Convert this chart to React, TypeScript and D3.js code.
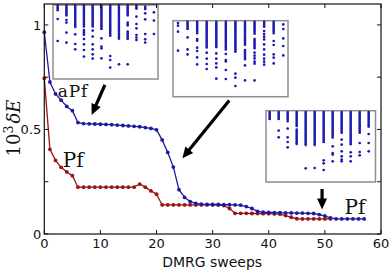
import React from "react"
import * as d3 from "d3"

const width = 392
const height = 272

const margin = {
  top: 4,
  right: 11,
  bottom: 38,
  left: 44
}

// axes
const sweepTicks = [0, 10, 20, 30, 40, 50, 60]
const energyTicks = [0, 0.25, 0.5, 0.75, 1]
const energyLabels = ["0", "0.5", "1"]
const energyLabelValues = [0, 0.5, 1]

// 10^3 dE per sweep (blue = aPf, red = Pf)
const aPfEnergy = [
  0.965, 0.727, 0.67, 0.64, 0.61, 0.59, 0.533, 0.528, 0.527, 0.526,
  0.525, 0.524, 0.523, 0.521, 0.519, 0.517, 0.515, 0.513, 0.509, 0.505,
  0.498, 0.45, 0.39, 0.32, 0.212, 0.175, 0.155, 0.146, 0.143, 0.142,
  0.141, 0.141, 0.14, 0.14, 0.139, 0.138, 0.131, 0.122, 0.108, 0.104,
  0.103, 0.102, 0.102, 0.101, 0.101, 0.1, 0.1, 0.099, 0.098, 0.093,
  0.086, 0.077, 0.072, 0.072, 0.072, 0.072, 0.072, 0.072
]
const pfEnergy = [
  0.745, 0.405, 0.352, 0.319, 0.297, 0.279, 0.224, 0.224, 0.224, 0.224,
  0.224, 0.224, 0.224, 0.224, 0.224, 0.224, 0.224, 0.239, 0.224, 0.206,
  0.19, 0.139, 0.139, 0.139, 0.139, 0.139, 0.139, 0.139, 0.139, 0.139,
  0.139, 0.139, 0.136, 0.122, 0.099, 0.099, 0.099, 0.098, 0.098, 0.097,
  0.097, 0.096, 0.095, 0.088, 0.08, 0.073, 0.072, 0.072, 0.072, 0.072,
  0.072, 0.072
]

// insets: dense runs [column, from, to] and single dots [column, level]
const inset1Runs = [
  [0, 1.3, 6.7], [1, 1.3, 12.3], [2, 1.3, 24], [3, 1.3, 22.3], [3, 25.7, 30.7],
  [4, 1.3, 22.3], [5, 1.3, 25.7], [6, 1.3, 32.3], [7, 1.3, 35.7], [8, 1.3, 12.3],
  [8, 18.3, 22.3], [8, 27.3, 35.7], [9, 1.3, 5.7], [10, 2.3, 5.7]
]
const inset1Dots = [
  [0, 14.7], [0, 36.7], [1, 15.7], [1, 18.3], [1, 28.3], [1, 38.3],
  [2, 30], [2, 39.7], [2, 45], [3, 34.7], [3, 40], [3, 45.7], [3, 52.3],
  [4, 26.3], [4, 32.3], [4, 40], [4, 45], [4, 50], [4, 54.3],
  [5, 34], [5, 42.3], [5, 44], [5, 54], [6, 51.7], [6, 55.7], [6, 63.3],
  [7, 60], [8, 60], [9, 12.3], [9, 19.7], [9, 24], [9, 30.7], [9, 33.3], [9, 35.7],
  [10, 9], [10, 15], [10, 29.7], [10, 35], [10, 38.3], [11, 8], [11, 16.3], [11, 29.7]
]
const inset2Runs = [
  [1, 1, 9.3], [2, 1, 12.7], [3, 1, 28], [4, 1, 26.7], [5, 1, 29.3], [6, 1, 31],
  [7, 1, 24.3], [7, 29.3, 39.3], [8, 1, 14.3], [8, 18.3, 27.7], [9, 1, 7], [10, 1, 12.7]
]
const inset2Dots = [
  [0, 2.3], [0, 5], [0, 11], [0, 30], [1, 16.7], [1, 28.7], [1, 33.7],
  [2, 18.3], [2, 20], [2, 27], [2, 30.3], [2, 36.7], [2, 43.7],
  [3, 32], [3, 38], [3, 43.3], [3, 48.3], [4, 32.7], [4, 38], [4, 42.7], [4, 46.7], [4, 58],
  [5, 33.3], [5, 39.3], [5, 40.7], [5, 49.3], [5, 58.3], [6, 53], [6, 57], [6, 65.3],
  [7, 44.7], [7, 59.7], [8, 32], [8, 35], [8, 37.7], [8, 41], [8, 43], [8, 59.7],
  [9, 10.3], [9, 13.3], [9, 16], [9, 18.7], [9, 23.7], [9, 28.7], [9, 34], [9, 38], [9, 41], [9, 44],
  [10, 20.3], [10, 24.3], [10, 33.7], [10, 37], [10, 42.7],
  [11, 3.7], [11, 8.3], [11, 17.7], [11, 25.3], [11, 34.7]
]
const inset3Runs = [
  [0, 0.7, 8.3], [1, 0.7, 8.3], [2, 0.7, 10], [3, 0.7, 15], [3, 18.3, 34],
  [4, 0.7, 35], [5, 0.7, 35], [6, 0.7, 31.7], [7, 0.7, 26.7], [8, 0.7, 21.7],
  [9, 0.7, 33.3], [10, 0.7, 21.7], [11, 0.7, 16.7]
]
const inset3Dots = [
  [1, 19.3], [1, 26], [2, 17.3], [2, 26], [2, 30.7], [2, 36], [4, 57], [5, 56.7],
  [6, 49], [6, 52], [6, 58.7], [7, 35], [7, 41.7], [7, 43.3], [7, 50],
  [8, 28.3], [8, 33.3], [8, 40], [8, 45], [8, 48.3], [8, 50],
  [9, 41], [9, 45], [9, 50], [10, 31.7], [10, 40.7], [10, 44], [11, 22.7], [11, 31.7], [11, 40]
]

const blue = "#1c1ca0"
const red = "#9a1212"
const dotBlue = "#1a1ab0"

function Inset({ box, origin, colX, colStep, runs, dots }) {
  const x = d3.scaleLinear().domain([0, 1]).range([colX, colX + colStep])
  const y = d3.scaleLinear().domain([0, 1]).range([origin, origin + 1])
  return (
    <g>
      <rect x={box.x} y={box.y} width={box.w} height={box.h} fill="white" stroke="#8e8e8e" strokeWidth={1.5} />
      {runs.map((r, i) => (
        <line key={"r" + i} x1={x(r[0])} x2={x(r[0])} y1={y(r[1])} y2={y(r[2])}
          stroke={dotBlue} strokeWidth={2.6} strokeLinecap="round" strokeDasharray="0.1 2.2" />
      ))}
      {runs.map((r, i) => (
        <line key={"s" + i} x1={x(r[0])} x2={x(r[0])} y1={y(r[1])} y2={y(r[2])}
          stroke={dotBlue} strokeWidth={2.2} opacity={0.75} />
      ))}
      {dots.map((d, i) => (
        <circle key={"d" + i} cx={x(d[0])} cy={y(d[1])} r={1.35} fill={dotBlue} />
      ))}
    </g>
  )
}

function Arrow({ x1, y1, x2, y2 }) {
  const dx = x2 - x1
  const dy = y2 - y1
  const len = Math.sqrt(dx * dx + dy * dy)
  const ux = dx / len
  const uy = dy / len
  const L = 11
  const W = 10
  const bx = x2 - ux * L
  const by = y2 - uy * L
  const pts = [
    [x2, y2],
    [bx - uy * W / 2, by + ux * W / 2],
    [bx + uy * W / 2, by - ux * W / 2]
  ]
  return (
    <g>
      <line x1={x1} y1={y1} x2={x2 - ux * L * 0.7} y2={y2 - uy * L * 0.7} stroke="black" strokeWidth={3.2} />
      <polygon points={pts.map(p => p.join(",")).join(" ")} fill="black" />
    </g>
  )
}

function App() {
  const xScale = d3.scaleLinear()
    .domain([0, 60])
    .range([margin.left + 0.3, width - margin.right])

  const yScale = d3.scaleLinear()
    .domain([0, 1.1])
    .range([height - margin.bottom, margin.top])

  const line = d3.line<number>()
    .x((d, i) => xScale(i))
    .y(d => yScale(d))

  const x0 = xScale(0)
  const x1 = xScale(60)
  const y0 = yScale(0)
  const y1 = yScale(1.1)

  return (
    <svg width={width} height={height} style={{ position: "absolute", left: 0, top: 0 }}>
      <rect width={width} height={height} fill="white" />

      <path d={line(pfEnergy)} fill="none" stroke={red} strokeWidth={1.3} />
      {pfEnergy.map((d, i) => (
        <circle key={"p" + i} cx={xScale(i)} cy={yScale(d)} r={1.9} fill={red} />
      ))}
      <path d={line(aPfEnergy)} fill="none" stroke={blue} strokeWidth={1.3} />
      {aPfEnergy.map((d, i) => (
        <circle key={"a" + i} cx={xScale(i)} cy={yScale(d)} r={1.9} fill={blue} />
      ))}

      <Inset box={{ x: 53, y: 5, w: 105, h: 74 }} origin={4.3} colX={57.7} colStep={8.75} runs={inset1Runs} dots={inset1Dots} />
      <Inset box={{ x: 173, y: 20.7, w: 115, h: 76 }} origin={20.7} colX={178} colStep={9.57} runs={inset2Runs} dots={inset2Dots} />
      <Inset box={{ x: 266, y: 110.7, w: 109.5, h: 71.3 }} origin={111.3} colX={269.7} colStep={9} runs={inset3Runs} dots={inset3Dots} />

      {/* frame */}
      <rect x={x0} y={y1} width={x1 - x0} height={y0 - y1} fill="none" stroke="#111" strokeWidth={1.2} />

      {sweepTicks.map(t => (
        <g key={"xt" + t} transform={`translate(${xScale(t)},0)`}>
          <line y1={y0} y2={y0 - 4} stroke="#111" />
          <line y1={y1} y2={y1 + 4} stroke="#111" />
          <text y={y0 + 14} textAnchor="middle" fontFamily="DejaVu Sans" fontSize={13} fill="#111">{t}</text>
        </g>
      ))}
      {energyTicks.map(t => (
        <g key={"yt" + t} transform={`translate(0,${yScale(t)})`}>
          <line x1={x0} x2={x0 + 4} stroke="#111" />
          <line x1={x1} x2={x1 - 4} stroke="#111" />
        </g>
      ))}
      {energyLabelValues.map((t, i) => (
        <text key={"yl" + t} x={x0 - 3} y={yScale(t)} dy="0.36em" textAnchor="end"
          fontFamily="DejaVu Sans" fontSize={13} fill="#111">{energyLabels[i]}</text>
      ))}

      <text x={(x0 + x1) / 2 - 0.5} y={266.5} textAnchor="middle" fontFamily="DejaVu Sans" fontSize={14} fill="#111">DMRG sweeps</text>

      <g transform={`translate(20,${(y0 + y1) / 2 + 9})rotate(-90)`}>
        <text textAnchor="middle" fontFamily="DejaVu Serif" fontSize={18} fill="#111">
          <tspan>10</tspan>
          <tspan fontSize={12.5} dy={-7}>3</tspan>
          <tspan dy={7} dx={2} fontStyle="italic">δE</tspan>
        </text>
      </g>

      <text x={xScale(2.4)} y={yScale(0.655)} fontFamily="DejaVu Serif" fontSize={17} letterSpacing={0.8} fill="#111">aPf</text>
      <text x={xScale(3.3)} y={yScale(0.32)} fontFamily="DejaVu Serif" fontSize={20} fill="#111">Pf</text>
      <text x={xScale(53.5)} y={yScale(0.096)} fontFamily="DejaVu Serif" fontSize={20} fill="#111">Pf</text>

      <Arrow x1={xScale(10.8)} y1={yScale(0.713)} x2={xScale(8.44)} y2={yScale(0.569)} />
      <Arrow x1={xScale(32.96)} y1={yScale(0.638)} x2={xScale(24.6)} y2={yScale(0.362)} />
      <Arrow x1={xScale(49.5)} y1={yScale(0.215)} x2={xScale(49.5)} y2={yScale(0.117)} />
    </svg>
  )
}

export default App
